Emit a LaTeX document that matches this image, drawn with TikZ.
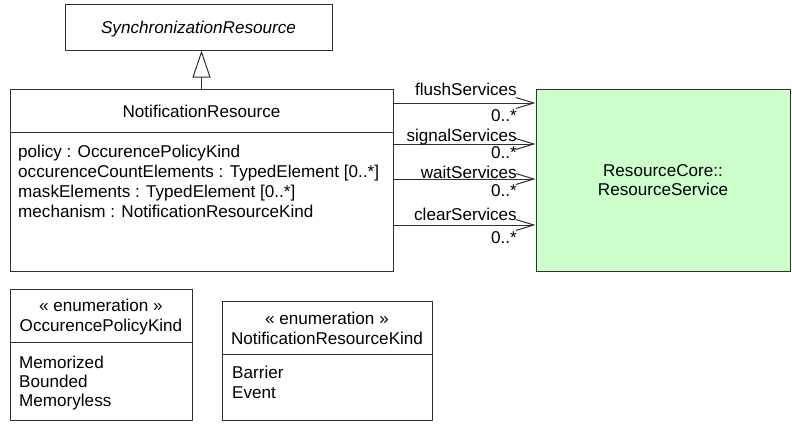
\documentclass[tikz,border=0pt]{standalone}
\usepackage{fontspec}
\setmainfont{Liberation Sans}
\usetikzlibrary{arrows.meta,calc}
\definecolor{rcgreen}{HTML}{CCFFCC}
\definecolor{linegray}{HTML}{303030}
\begin{document}
\begin{tikzpicture}[x=1pt,y=-1pt,
  every node/.style={font=\fontsize{17.1pt}{19.8pt}\selectfont, inner sep=0pt, text=black},
  box/.style={draw=linegray, line width=1pt, fill=white},
  ln/.style={draw=linegray, line width=1pt},
  txt/.style={anchor=base west},
  ctxt/.style={anchor=base},
  rtxt/.style={anchor=base east},
  assoc/.style={ln, -{Straight Barb[length=18pt,width=11pt]}},
  gen/.style={ln, -{Triangle[open,length=27pt,width=18pt,fill=white]}}
]
\useasboundingbox (0,0) rectangle (792,424);

% boxes
\node[box, minimum width=267pt, minimum height=46pt] (sync) at (198.5,27) {};
\node[box, minimum width=383pt, minimum height=182pt] (nr) at (201.5,180) {};
\node[box, fill=rcgreen, minimum width=254pt, minimum height=182pt] (rc) at (663,180) {};
\node[box, minimum width=182pt, minimum height=131pt] (e1) at (101,354.5) {};
\node[box, minimum width=210pt, minimum height=119pt] (e2) at (327,360.5) {};

% dividers
\coordinate (d1) at (0,132);
\coordinate (d2) at (0,342);
\coordinate (d3) at (0,354);
\draw[ln] (nr.west |- d1) -- (nr.east |- d1);
\draw[ln] (e1.west |- d2) -- (e1.east |- d2);
\draw[ln] (e2.west |- d3) -- (e2.east |- d3);

% texts
\node[ctxt, font=\fontsize{17.1pt}{19.8pt}\selectfont\itshape] (syncT) at (198.5,33) {SynchronizationResource};
\node[ctxt] (nrT) at (201.5,117) {NotificationResource};
\node[txt] (at1) at (18,157) {policy : OccurencePolicyKind};
\node[txt] (at2) at (18,177) {occurenceCountElements : TypedElement [0..*]};
\node[txt] (at3) at (18,197) {maskElements : TypedElement [0..*]};
\node[txt] (at4) at (18,217) {mechanism : NotificationResourceKind};

\node[ctxt] (rcT1) at (663,176) {ResourceCore::};
\node[ctxt] (rcT2) at (663,195) {ResourceService};

\node[ctxt] (e1s) at (101,311) {« enumeration »};
\node[ctxt] (e1n) at (101,331) {OccurencePolicyKind};
\node[txt] (e1a) at (19,368) {Memorized};
\node[txt] (e1b) at (19,387) {Bounded};
\node[txt] (e1c) at (19,406) {Memoryless};

\node[ctxt] (e2s) at (327,324) {« enumeration »};
\node[ctxt] (e2n) at (327,344) {NotificationResourceKind};
\node[txt] (e2a) at (232,378) {Barrier};
\node[txt] (e2b) at (232,398) {Event};

% generalization
\draw[gen] (nr.north) -- (sync.south -| nr.north);

% associations
\coordinate (a1) at (0,103);
\coordinate (a2) at (0,144);
\coordinate (a3) at (0,179);
\coordinate (a4) at (0,225);
\draw[assoc] (nr.east |- a1) -- (rc.west |- a1);
\draw[assoc] (nr.east |- a2) -- (rc.west |- a2);
\draw[assoc] (nr.east |- a3) -- (rc.west |- a3);
\draw[assoc] (nr.east |- a4) -- (rc.west |- a4);

\node[rtxt] (l1) at (517,95) {flushServices};
\node[rtxt] (m1) at (517,121) {0..*};
\node[rtxt] (l2) at (517,141) {signalServices};
\node[rtxt] (m2) at (517,158) {0..*};
\node[rtxt] (l3) at (517,178) {waitServices};
\node[rtxt] (m3) at (517,196) {0..*};
\node[rtxt] (l4) at (517,220) {clearServices};
\node[rtxt] (m4) at (517,243) {0..*};
\end{tikzpicture}
\end{document}
